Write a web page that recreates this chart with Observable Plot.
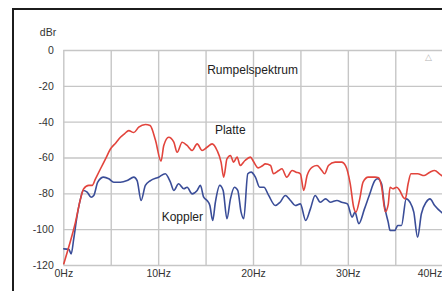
<!DOCTYPE html>
<html><head><meta charset="utf-8">
<script src="https://cdn.jsdelivr.net/npm/d3@7"></script>
<script src="https://cdn.jsdelivr.net/npm/@observablehq/plot@0.6"></script>
<style>
html,body{margin:0;padding:0;background:#fff;overflow:hidden}
#wrap{position:relative;width:442px;height:291px;overflow:hidden}
#frame{position:absolute;left:12px;top:8px;width:440px;height:300px;border-top:2px solid #1c1c1c;border-left:2px solid #1c1c1c;pointer-events:none}
</style>
</head><body>
<div id="wrap"><div id="chart"></div><div id="frame"></div></div>
<script>
const platteFreq = [0,0.36,0.88,1.23,1.76,2.1,2.63,2.99,3.34,3.87,4.4,4.92,5.5,5.97,6.4,6.85,7.38,7.9,8.6,9.1,9.66,10.25,10.54,11.06,11.6,11.95,12.48,13.0,13.53,14.06,14.58,15.1,15.64,16.16,16.58,16.86,17.2,17.57,17.9,18.27,18.6,19.1,19.67,20.0,20.5,20.9,21.25,21.8,22.1,22.66,23.0,23.5,24.07,24.5,24.94,25.3,25.65,26.2,26.7,27.2,27.5,27.9,28.6,29.3,29.7,30.2,30.56,30.8,31.2,31.55,32.1,32.8,33.2,33.5,33.9,34.2,34.4,34.7,35.1,35.4,35.8,36.0,36.3,36.6,37.3,38.0,38.6,39.1,39.6,40];
const platteDb = [-119,-112.6,-103,-95.8,-82.8,-77.2,-75.3,-75.3,-71.6,-66,-60.5,-55,-51.5,-48.4,-46.5,-44.7,-45.8,-42.8,-41.3,-41.9,-50,-61.8,-53,-48.4,-51.2,-56.8,-51.2,-53,-55.8,-52.1,-55.8,-54,-52.1,-55.8,-62.3,-70.7,-60.5,-58.6,-62.3,-59.5,-64.2,-61.4,-59.5,-62,-65.5,-64.5,-63.3,-64.2,-68.8,-67,-66,-70.7,-67,-67.9,-68.8,-78.1,-69.8,-65.1,-64.2,-67,-68.8,-64.2,-62.3,-62.3,-64.2,-74.4,-87.5,-90.2,-82.8,-73.5,-70.7,-70.7,-71,-76,-90,-86,-76.3,-77.2,-76.3,-78,-82,-82.8,-74.4,-68.8,-68.8,-69.8,-67.9,-67,-68.8,-70.5];

const kopplerFreq = [0,0.53,0.78,1.05,1.41,1.76,2.04,2.46,2.88,3.16,3.58,4.2,4.74,5.27,5.97,6.68,7.38,7.73,8.15,8.6,9.14,10.0,10.7,11.24,11.6,12.1,12.65,13.0,13.53,14.06,14.4,14.75,15.1,15.4,15.7,15.98,16.44,16.8,17.2,17.57,17.99,18.34,18.69,18.97,19.4,19.75,20.2,20.65,21.1,21.6,22.3,22.8,23.36,23.9,24.4,24.94,25.5,26.0,26.5,27.05,27.6,28.1,28.8,29.3,29.9,30.4,30.7,31.1,31.7,32.2,32.8,33.1,33.5,33.8,34.2,34.4,34.9,35.2,35.6,36.1,36.5,36.9,37.3,37.7,38.2,38.6,39.1,39.8,40];
const kopplerDb = [-110.7,-111,-113.5,-105,-92,-82.8,-78.1,-79,-81.9,-80.9,-73.5,-70.7,-71.6,-73.5,-73.5,-72.6,-70.7,-72.6,-83.7,-75.3,-72.6,-70.7,-68.8,-73.5,-78.1,-74.4,-77.2,-76.3,-80,-78.1,-75.3,-81.9,-83.7,-86.5,-94.9,-84.7,-75.3,-78.1,-93.9,-82.8,-76.3,-78.1,-90.2,-93.9,-68.8,-67.9,-70.7,-76.3,-76.3,-80.9,-86.5,-84.7,-80.9,-83.7,-86.5,-85.6,-94.9,-88.4,-80.9,-84.7,-82.8,-84.7,-83.7,-84.7,-85.6,-93,-90.2,-96.7,-88.4,-80.9,-72.6,-71.6,-74.4,-86.5,-95.8,-100.5,-100.5,-97.7,-97.7,-82.8,-84.7,-90.2,-104.2,-91.1,-84.7,-82.8,-86.5,-90.2,-91];

const xGrid = [0,5,10,15,20,25,30,35,40];
const yGrid = [0,-20,-40,-60,-80,-100,-120];
const xTicks = [0,10,20,30];
const xTicksEdge = [40];
const yTicks = [0,-20,-40,-60,-80,-100,-120];

const labelText = ["Rumpelspektrum","Platte","Koppler"];
const labelFreq = [19.9,17.55,12.5];
const labelDb = [-11.2,-44.7,-93];

const platte = platteFreq.map((f,i)=>({f, db: platteDb[i]}));
const koppler = kopplerFreq.map((f,i)=>({f, db: kopplerDb[i]}));
const labels = labelText.map((t,i)=>({t, f: labelFreq[i], db: labelDb[i]}));
const hz = d => d + "Hz";

const chart = Plot.plot({
  width: 442,
  height: 291,
  marginTop: 50,
  marginBottom: 26,
  marginLeft: 63.3,
  marginRight: 0,
  x: {domain: [0,40], range: [63.3, 442.7]},
  y: {domain: [-120, 0], range: [265, 50]},
  style: {fontFamily: "'Liberation Sans', Arial, sans-serif", fontSize: "10.5px", color: "#333", background: "transparent"},
  marks: [
    Plot.ruleX(xGrid, {stroke: "#c6c6c6", strokeWidth: 1.4}),
    Plot.ruleY(yGrid, {stroke: "#c6c6c6", strokeWidth: 1.4}),
    Plot.axisX(xTicks, {tickSize: 0, tickPadding: 4, tickFormat: hz, label: null}),
    Plot.axisX(xTicksEdge, {tickSize: 0, tickPadding: 4, tickFormat: hz, label: null, textAnchor: "end", dx: -1}),
    Plot.axisY(yTicks, {tickSize: 0, tickPadding: 10, tickFormat: d => String(d), label: null}),
    Plot.line(koppler, {x: "f", y: "db", stroke: "#3a4d98", strokeWidth: 1.6, curve: "monotone-x"}),
    Plot.line(platte, {x: "f", y: "db", stroke: "#e2443c", strokeWidth: 1.6, curve: "monotone-x"}),
    Plot.text(labels, {x: "f", y: "db", text: "t", fontSize: 12, fill: "#222"}),
    Plot.text(["dBr"], {frameAnchor: "top-left", dx: -24, dy: -22, fontSize: 10.5, fill: "#333"}),
    Plot.text(["△"], {frameAnchor: "top-right", dx: -11, dy: 3, fontSize: 9, fill: "#b5b5b5"})
  ]
});
document.getElementById("chart").appendChild(chart);
</script>
</body></html>
